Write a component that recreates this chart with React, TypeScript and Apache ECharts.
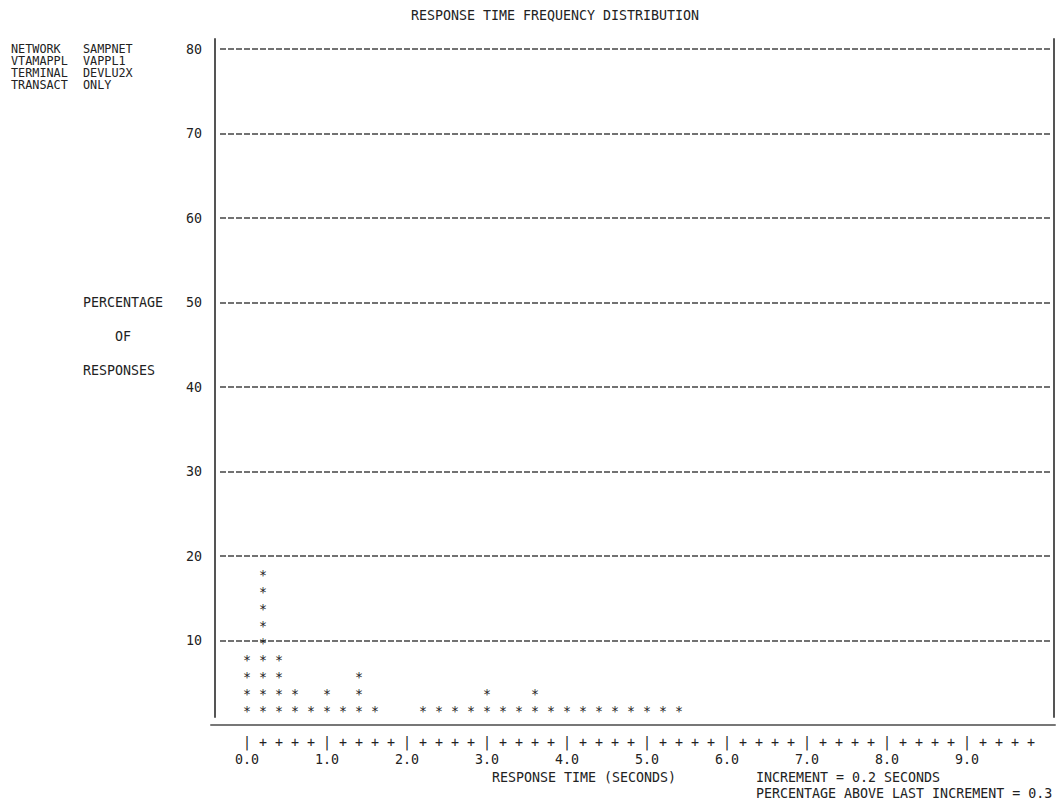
import React, { useEffect, useRef } from "react";
import * as echarts from "echarts";

const chartTitle = "RESPONSE TIME FREQUENCY DISTRIBUTION";
const infoKeys = ["NETWORK", "VTAMAPPL", "TERMINAL", "TRANSACT"];
const infoValues = ["SAMPNET", "VAPPL1", "DEVLU2X", "ONLY"];
const yNameLines = ["PERCENTAGE", "OF", "RESPONSES"];
const xName = "RESPONSE TIME (SECONDS)";
const notes = ["INCREMENT = 0.2 SECONDS", "PERCENTAGE ABOVE LAST INCREMENT = 0.3"];

// response time bucket (seconds) and percentage of responses
const times = [
  0.0, 0.2, 0.4, 0.6, 0.8, 1.0, 1.2, 1.4, 1.6, 1.8, 2.0, 2.2, 2.4, 2.6,
  2.8, 3.0, 3.2, 3.4, 3.6, 3.8, 4.0, 4.2, 4.4, 4.6, 4.8, 5.0, 5.2, 5.4,
];
const percents = [
  8, 18, 8, 4, 2, 4, 2, 6, 2, 0, 0, 2, 2, 2,
  2, 4, 2, 2, 4, 2, 2, 2, 2, 2, 2, 2, 2, 2,
];

const yTickValues = [0, 10, 20, 30, 40, 50, 60, 70, 80];
const xTickValues = [
  0.0, 0.2, 0.4, 0.6, 0.8, 1.0, 1.2, 1.4, 1.6, 1.8,
  2.0, 2.2, 2.4, 2.6, 2.8, 3.0, 3.2, 3.4, 3.6, 3.8,
  4.0, 4.2, 4.4, 4.6, 4.8, 5.0, 5.2, 5.4, 5.6, 5.8,
  6.0, 6.2, 6.4, 6.6, 6.8, 7.0, 7.2, 7.4, 7.6, 7.8,
  8.0, 8.2, 8.4, 8.6, 8.8, 9.0, 9.2, 9.4, 9.6, 9.8,
];

const FONT = '"DejaVu Sans Mono", monospace';
const FS = 13.3;
const INK = "#222";

function txt(text: string, x: number, y: number, align = "left", size = FS) {
  return {
    type: "text",
    x,
    y,
    silent: true,
    style: {
      text,
      fill: INK,
      fontSize: size,
      fontFamily: FONT,
      align,
      verticalAlign: "middle",
      textAlign: align,
      textVerticalAlign: "middle",
    },
  };
}

export default function App() {
  const ref = useRef<HTMLDivElement>(null);

  useEffect(() => {
    if (!ref.current) return;
    const chart = echarts.init(ref.current, undefined, { renderer: "svg" });

    const graphics: any[] = [];
    graphics.push(txt(chartTitle, 555, 15, "center"));
    infoKeys.forEach((k, i) => {
      graphics.push(txt(k, 11, 49 + i * 12, "left", 11.8));
      graphics.push(txt(infoValues[i], 83, 49 + i * 12, "left", 11.8));
    });
    graphics.push(txt(yNameLines[0], 83, 302));
    graphics.push(txt(yNameLines[1], 115, 336));
    graphics.push(txt(yNameLines[2], 83, 370));
    graphics.push(txt(xName, 492, 777));
    graphics.push(txt(notes[0], 756, 777));
    graphics.push(txt(notes[1], 756, 793));

    const option: any = {
      animation: false,
      backgroundColor: "#ffffff",
      textStyle: { fontFamily: FONT, fontSize: FS, color: INK },
      grid: [
        { left: 220, top: 49, width: 830, height: 676 },
        { left: 211, top: 49, width: 844, height: 676 },
        { left: 215, top: 39, width: 839, height: 678 },
      ],
      xAxis: [
        { gridIndex: 0, type: "value", min: 0, max: 1, show: false },
        {
          gridIndex: 1,
          type: "value",
          min: -0.45,
          max: 10.1,
          axisLine: { show: true, lineStyle: { color: "#777", width: 2 } },
          axisTick: { show: false },
          splitLine: { show: false },
          axisLabel: {
            show: true,
            customValues: xTickValues,
            margin: 9,
            showMinLabel: true,
            showMaxLabel: true,
            formatter: (v: number) => {
              if (Math.abs(v - Math.round(v)) < 1e-6) {
                return "{bar||}\n{num|" + v.toFixed(1) + "}";
              }
              return "{plus|+}";
            },
            rich: {
              bar: { fontFamily: FONT, fontSize: FS, color: INK, lineHeight: 17 },
              num: { fontFamily: FONT, fontSize: FS, color: INK, lineHeight: 17 },
              plus: { fontFamily: FONT, fontSize: FS, color: INK, lineHeight: 17 },
            },
          },
        },
        { gridIndex: 2, type: "value", min: 0, max: 1, show: false },
      ],
      yAxis: [
        {
          gridIndex: 0,
          type: "value",
          min: yTickValues[0],
          max: yTickValues[yTickValues.length - 1],
          interval: 10,
          axisLine: { show: false },
          axisTick: { show: false },
          axisLabel: {
            margin: 18,
            fontFamily: FONT,
            fontSize: FS,
            color: INK,
            formatter: (v: number) => (v === 0 ? "" : String(v)),
          },
          splitLine: {
            show: true,
            showMinLine: false,
            lineStyle: { color: "#444", width: 1.5, type: [6, 2] },
          },
        },
        { gridIndex: 1, type: "value", min: 0, max: 80, show: false },
        {
          gridIndex: 2,
          type: "value",
          position: "left",
          min: 0,
          max: 1,
          axisLine: { show: true, lineStyle: { color: "#555", width: 2 } },
          axisTick: { show: false },
          axisLabel: { show: false },
          splitLine: { show: false },
        },
        {
          gridIndex: 2,
          type: "value",
          position: "right",
          min: 0,
          max: 1,
          axisLine: { show: true, lineStyle: { color: "#555", width: 2 } },
          axisTick: { show: false },
          axisLabel: { show: false },
          splitLine: { show: false },
        },
      ],
      series: [
        {
          type: "custom",
          name: "Percentage of responses",
          xAxisIndex: 1,
          yAxisIndex: 1,
          data: times.map((t, i) => [t, percents[i]]),
          renderItem: (_params: any, api: any) => {
            const x = api.value(0);
            const h = api.value(1);
            const children: any[] = [];
            for (let k = 2; k <= h; k += 2) {
              const p = api.coord([x, k]);
              children.push({
                type: "text",
                x: p[0],
                y: p[1] + 3,
                style: {
                  text: "*",
                  fill: INK,
                  fontSize: FS,
                  fontFamily: FONT,
                  align: "center",
                  verticalAlign: "middle",
                },
              });
            }
            return { type: "group", children };
          },
        },
      ],
      graphic: graphics,
    };

    chart.setOption(option);
    return () => chart.dispose();
  }, []);

  return (
    <div
      ref={ref}
      style={{ position: "fixed", left: 0, top: 0, width: 1056, height: 808 }}
    />
  );
}
